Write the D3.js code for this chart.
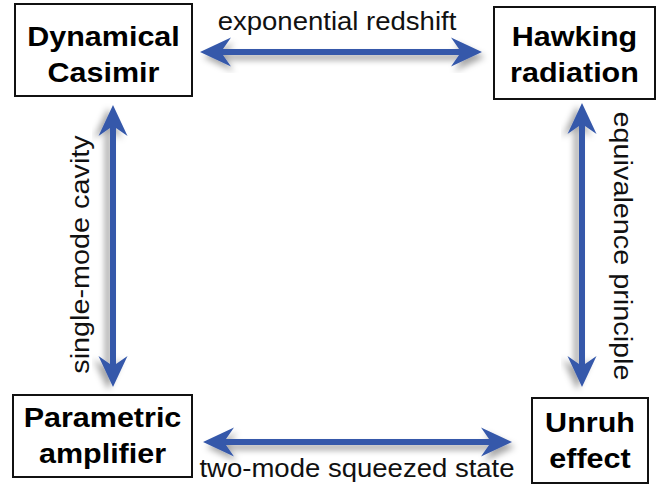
<!DOCTYPE html>
<html>
<head>
<meta charset="utf-8">
<script src="https://cdn.jsdelivr.net/npm/d3@7"></script>
<style>
  html, body { margin: 0; padding: 0; background: #fff; }
  svg { display: block; }
</style>
</head>
<body>
<div id="chart"></div>
<script>
// diagram content
const nodeTitles = [
  ["Dynamical", "Casimir"],
  ["Hawking", "radiation"],
  ["Parametric", "amplifier"],
  ["Unruh", "effect"],
];
const linkLabels = ["exponential redshift", "equivalence principle", "two-mode squeezed state", "single-mode cavity"];
const linkSource = [0, 1, 2, 0];
const linkTarget = [1, 3, 3, 2];

// layout (pixels)
const width = 667;
const height = 487;
const boxes = [
  { x0: 15, y0: 4, x1: 192, y1: 96, ty: 54 },
  { x0: 494, y0: 7, x1: 655, y1: 99, ty: 53.5 },
  { x0: 13, y0: 395, x1: 192, y1: 477, ty: 435 },
  { x0: 532, y0: 398, x1: 648, y1: 483, ty: 440 },
];
const arrows = [
  { x1: 200, y1: 52, x2: 482, y2: 52, lx: 337, ly: 30, rot: 0 },
  { x1: 582, y1: 103, x2: 582, y2: 387, lx: 614, ly: 246, rot: 90 },
  { x1: 203, y1: 442, x2: 512, y2: 442, lx: 357, ly: 477, rot: 0 },
  { x1: 113, y1: 105, x2: 113, y2: 387, lx: 89, ly: 254.5, rot: -90 },
];

const blue = "#3658aa";
const fontFamily = "'Liberation Sans', Arial, Helvetica, sans-serif";

const svg = d3.select("#chart")
  .append("svg")
  .attr("width", width)
  .attr("height", height)
  .attr("viewBox", [0, 0, width, height]);

const filter = svg.append("defs")
  .append("filter")
  .attr("id", "arrow-shadow")
  .attr("x", "-20%")
  .attr("y", "-20%")
  .attr("width", "140%")
  .attr("height", "140%");

filter.append("feDropShadow")
  .attr("dx", 3)
  .attr("dy", 5)
  .attr("stdDeviation", 3)
  .attr("flood-color", "#000")
  .attr("flood-opacity", 0.35);

// double-headed arrow along +x from 0 to len, barbed heads
function arrowPath(len) {
  const sw = 3.1, hl = 31, hw = 14.5, notch = 23;
  const p = d3.path();
  p.moveTo(0, 0);
  p.lineTo(hl, -hw);
  p.lineTo(notch, -sw);
  p.lineTo(len - notch, -sw);
  p.lineTo(len - hl, -hw);
  p.lineTo(len, 0);
  p.lineTo(len - hl, hw);
  p.lineTo(len - notch, sw);
  p.lineTo(notch, sw);
  p.lineTo(hl, hw);
  p.closePath();
  return p.toString();
}

const links = linkLabels.map((label, i) => ({
  label,
  source: linkSource[i],
  target: linkTarget[i],
  ...arrows[i],
}));

const linkGroup = svg.append("g").attr("class", "links");

linkGroup.selectAll("path")
  .data(links)
  .join("path")
  .attr("transform", (d) => {
    const angle = Math.atan2(d.y2 - d.y1, d.x2 - d.x1) * 180 / Math.PI;
    return `translate(${d.x1},${d.y1}) rotate(${angle})`;
  })
  .attr("d", (d) => arrowPath(Math.hypot(d.x2 - d.x1, d.y2 - d.y1)))
  .attr("fill", blue)
  .attr("filter", "url(#arrow-shadow)");

linkGroup.selectAll("text")
  .data(links)
  .join("text")
  .attr("transform", (d) => `translate(${d.lx},${d.ly}) rotate(${d.rot}) scale(${d.rot === 0 ? 1.08 : 1.13},1)`)
  .attr("text-anchor", "middle")
  .attr("font-family", fontFamily)
  .attr("font-size", 25.5)
  .attr("fill", "#111")
  .text((d) => d.label);

const nodes = nodeTitles.map((lines, i) => ({ lines, ...boxes[i] }));

const nodeGroup = svg.append("g")
  .attr("class", "nodes")
  .selectAll("g")
  .data(nodes)
  .join("g");

nodeGroup.append("rect")
  .attr("x", (d) => d.x0)
  .attr("y", (d) => d.y0)
  .attr("width", (d) => d.x1 - d.x0)
  .attr("height", (d) => d.y1 - d.y0)
  .attr("fill", "#fff")
  .attr("stroke", "#111")
  .attr("stroke-width", 2);

nodeGroup.each(function (d) {
  const cx = (d.x0 + d.x1) / 2;
  d3.select(this)
    .selectAll("text")
    .data(d.lines)
    .join("text")
    .attr("transform", (t, i) => `translate(${cx},${d.ty - 8 + i * 36}) scale(1.09,1)`)
    .attr("text-anchor", "middle")
    .attr("font-family", fontFamily)
    .attr("font-weight", "bold")
    .attr("font-size", 28)
    .attr("fill", "#000")
    .text((t) => t);
});
</script>
</body>
</html>
